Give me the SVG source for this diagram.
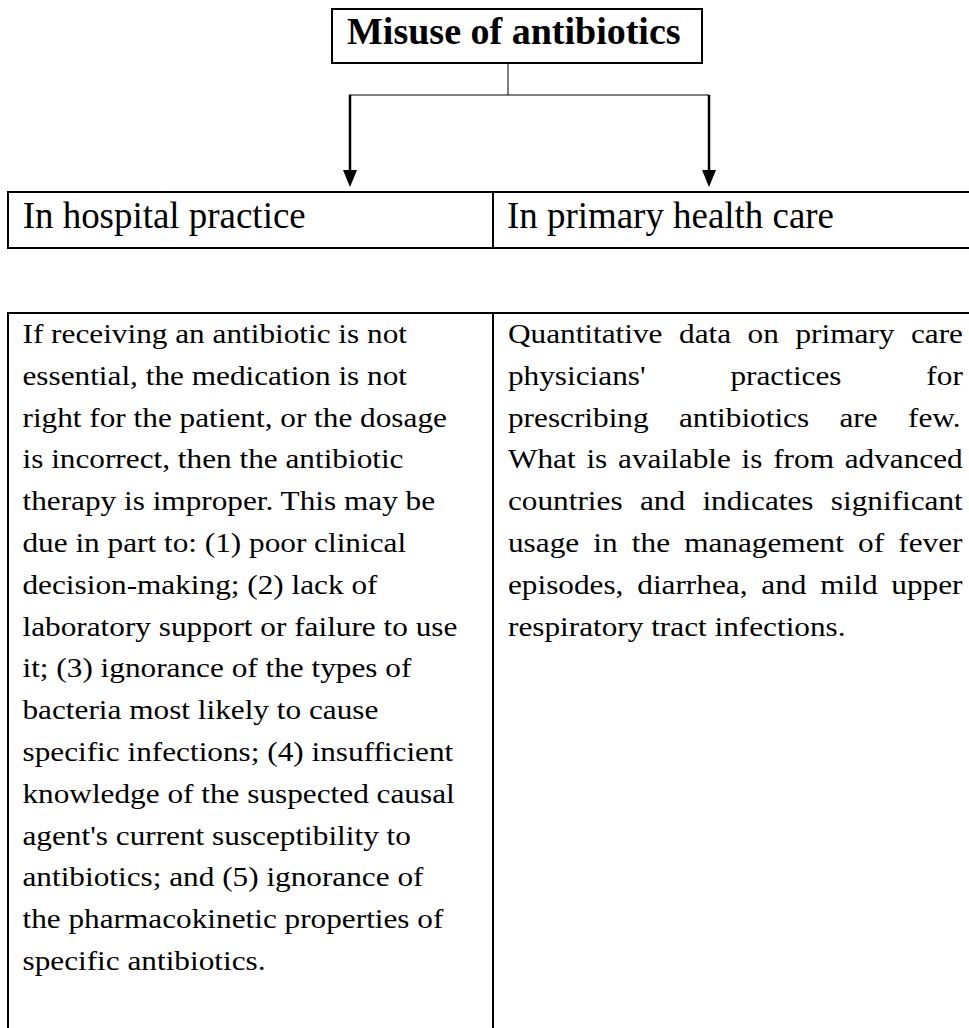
<svg xmlns="http://www.w3.org/2000/svg" width="969" height="1028" viewBox="0 0 969 1028">
<style>
.box{fill:#fff;stroke:#000;stroke-width:2}
.thin{stroke:#000;stroke-width:1;fill:none}
.shaft{stroke:#000;stroke-width:2.5;fill:none}
.title{font-family:"Liberation Serif","Times New Roman",serif;font-weight:bold;font-size:38px;fill:#000}
.head{font-family:"Liberation Serif","Times New Roman",serif;font-size:39px;fill:#000}
.body{font-family:"Liberation Serif","Times New Roman",serif;font-size:26.5px;fill:#000}
</style>
<defs>
<marker id="ah" markerUnits="userSpaceOnUse" markerWidth="18" markerHeight="16" refX="0" refY="7" orient="auto" viewBox="0 0 18 14">
<path d="M0,0 L17,7 L0,14 z" fill="#000"/>
</marker>
</defs>
<rect width="969" height="1028" fill="#fff"/>

<g id="title">
<rect class="box" x="332" y="9" width="370" height="54"/>
<text class="title" x="347" y="44">Misuse of antibiotics</text>
</g>

<g id="connectors">
<line class="thin" x1="508" y1="63" x2="508" y2="95"/>
<line class="thin" x1="349" y1="95" x2="709" y2="95"/>
<line class="shaft" x1="350" y1="95" x2="350" y2="170" marker-end="url(#ah)"/>
<line class="shaft" x1="709" y1="95" x2="709" y2="170" marker-end="url(#ah)"/>
</g>

<g id="header-hospital">
<rect class="box" x="8" y="192" width="485" height="56"/>
<g transform="scale(0.947,1)">
<text class="head" x="24" y="228">In hospital practice</text>
</g>
</g>
<g id="header-primary">
<rect class="box" x="493" y="192" width="490" height="56"/>
<g transform="scale(0.947,1)">
<text class="head" x="535.4" y="228">In primary health care</text>
</g>
</g>

<g id="body-hospital">
<rect class="box" x="8" y="313" width="485" height="730"/>
<g transform="scale(1.18,1)">
<text class="body" x="19.07">
<tspan x="19.07" y="343">If receiving an antibiotic is not</tspan>
<tspan x="19.07" y="384.8">essential, the medication is not</tspan>
<tspan x="19.07" y="426.6">right for the patient, or the dosage</tspan>
<tspan x="19.07" y="468.4">is incorrect, then the antibiotic</tspan>
<tspan x="19.07" y="510.2">therapy is improper. This may be</tspan>
<tspan x="19.07" y="552">due in part to: (1) poor clinical</tspan>
<tspan x="19.07" y="593.8">decision-making; (2) lack of</tspan>
<tspan x="19.07" y="635.6">laboratory support or failure to use</tspan>
<tspan x="19.07" y="677.4">it; (3) ignorance of the types of</tspan>
<tspan x="19.07" y="719.2">bacteria most likely to cause</tspan>
<tspan x="19.07" y="761">specific infections; (4) insufficient</tspan>
<tspan x="19.07" y="802.8">knowledge of the suspected causal</tspan>
<tspan x="19.07" y="844.6">agent's current susceptibility to</tspan>
<tspan x="19.07" y="886.4">antibiotics; and (5) ignorance of</tspan>
<tspan x="19.07" y="928.2">the pharmacokinetic properties of</tspan>
<tspan x="19.07" y="970">specific antibiotics.</tspan>
</text>
</g>
</g>

<g id="body-primary">
<rect class="box" x="493" y="313" width="490" height="730"/>
<g transform="scale(1.18,1)">
<text class="body" x="430.5" y="343" word-spacing="7.4">Quantitative data on primary care</text>
<text class="body" x="430.5" y="384.8" word-spacing="65.3">physicians' practices for</text>
<text class="body" x="430.5" y="426.6" word-spacing="19.1">prescribing antibiotics are few.</text>
<text class="body" x="430.5" y="468.4" word-spacing="2.5">What is available is from advanced</text>
<text class="body" x="430.5" y="510.2" word-spacing="8.1">countries and indicates significant</text>
<text class="body" x="430.5" y="552" word-spacing="5.4">usage in the management of fever</text>
<text class="body" x="430.5" y="593.8" word-spacing="5.1">episodes, diarrhea, and mild upper</text>
<text class="body" x="430.5" y="635.6">respiratory tract infections.</text>
</g>
</g>
</svg>
